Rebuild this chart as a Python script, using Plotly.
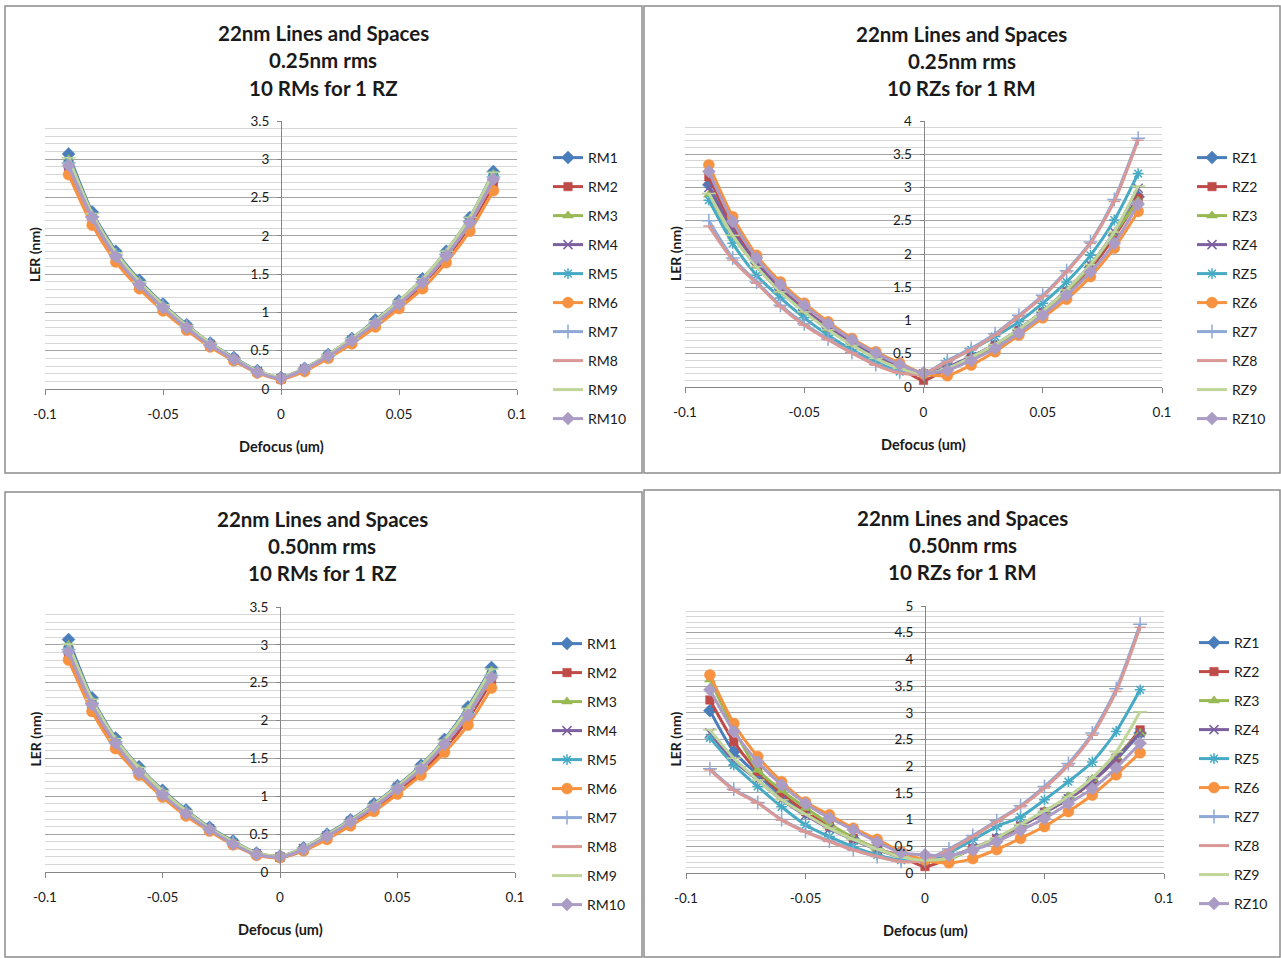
import plotly.graph_objects as go

# ---------------------------------------------------------------- data
DEFOCUS = [-0.09, -0.08, -0.07, -0.06, -0.05, -0.04, -0.03, -0.02, -0.01, 0.0,
           0.01, 0.02, 0.03, 0.04, 0.05, 0.06, 0.07, 0.08, 0.09]

X_TICKS = [-0.1, -0.05, 0, 0.05, 0.1]
X_TICK_TEXT = ["-0.1", "-0.05", "0", "0.05", "0.1"]

RM_NAMES = ["RM1", "RM2", "RM3", "RM4", "RM5", "RM6", "RM7", "RM8", "RM9", "RM10"]
RZ_NAMES = ["RZ1", "RZ2", "RZ3", "RZ4", "RZ5", "RZ6", "RZ7", "RZ8", "RZ9", "RZ10"]

# 0.25 nm rms, 10 RMs for 1 RZ
LER_025_RM = [
    [3.07, 2.31, 1.80, 1.42, 1.11, 0.84, 0.60, 0.41, 0.24, 0.15, 0.27, 0.45, 0.66, 0.90, 1.15, 1.44, 1.80, 2.24, 2.84],
    [2.86, 2.19, 1.70, 1.34, 1.05, 0.79, 0.57, 0.38, 0.22, 0.13, 0.25, 0.42, 0.62, 0.85, 1.09, 1.37, 1.71, 2.13, 2.66],
    [3.00, 2.28, 1.77, 1.40, 1.09, 0.83, 0.59, 0.40, 0.23, 0.15, 0.26, 0.44, 0.65, 0.88, 1.14, 1.42, 1.78, 2.22, 2.81],
    [2.93, 2.23, 1.74, 1.37, 1.07, 0.81, 0.58, 0.39, 0.23, 0.14, 0.26, 0.43, 0.64, 0.87, 1.12, 1.40, 1.75, 2.18, 2.75],
    [2.97, 2.26, 1.76, 1.38, 1.08, 0.82, 0.59, 0.39, 0.23, 0.15, 0.26, 0.44, 0.64, 0.88, 1.13, 1.41, 1.77, 2.20, 2.79],
    [2.80, 2.14, 1.66, 1.31, 1.02, 0.77, 0.55, 0.37, 0.21, 0.13, 0.23, 0.40, 0.59, 0.81, 1.05, 1.31, 1.65, 2.06, 2.59],
    [2.95, 2.25, 1.75, 1.38, 1.08, 0.82, 0.58, 0.39, 0.23, 0.14, 0.26, 0.43, 0.64, 0.87, 1.12, 1.40, 1.76, 2.19, 2.77],
    [2.90, 2.21, 1.72, 1.36, 1.06, 0.80, 0.57, 0.38, 0.22, 0.14, 0.25, 0.43, 0.63, 0.86, 1.11, 1.39, 1.74, 2.17, 2.72],
    [3.02, 2.29, 1.78, 1.40, 1.10, 0.83, 0.60, 0.40, 0.24, 0.15, 0.27, 0.45, 0.66, 0.89, 1.15, 1.44, 1.80, 2.24, 2.83],
    [2.92, 2.24, 1.73, 1.36, 1.06, 0.80, 0.57, 0.39, 0.22, 0.14, 0.26, 0.43, 0.63, 0.86, 1.11, 1.39, 1.74, 2.17, 2.74],
]

# 0.25 nm rms, 10 RZs for 1 RM
LER_025_RZ = [
    [3.04, 2.36, 1.87, 1.47, 1.16, 0.89, 0.66, 0.46, 0.30, 0.20, 0.29, 0.45, 0.63, 0.85, 1.12, 1.43, 1.80, 2.28, 2.86],
    [3.16, 2.42, 1.90, 1.49, 1.17, 0.90, 0.67, 0.46, 0.29, 0.10, 0.28, 0.44, 0.62, 0.84, 1.11, 1.42, 1.78, 2.26, 2.84],
    [2.89, 2.27, 1.82, 1.44, 1.14, 0.87, 0.64, 0.44, 0.28, 0.20, 0.28, 0.44, 0.62, 0.85, 1.12, 1.44, 1.82, 2.31, 2.80],
    [3.00, 2.34, 1.86, 1.47, 1.16, 0.89, 0.66, 0.46, 0.29, 0.20, 0.30, 0.46, 0.64, 0.87, 1.14, 1.46, 1.84, 2.33, 2.99],
    [2.81, 2.16, 1.68, 1.34, 1.04, 0.78, 0.56, 0.38, 0.23, 0.20, 0.38, 0.56, 0.76, 0.98, 1.26, 1.58, 1.98, 2.51, 3.21],
    [3.34, 2.56, 1.98, 1.58, 1.26, 0.98, 0.73, 0.53, 0.36, 0.20, 0.17, 0.33, 0.53, 0.78, 1.04, 1.32, 1.66, 2.09, 2.64],
    [2.50, 1.94, 1.58, 1.23, 0.95, 0.72, 0.52, 0.34, 0.22, 0.20, 0.40, 0.58, 0.80, 1.08, 1.38, 1.75, 2.18, 2.82, 3.74],
    [2.42, 1.91, 1.56, 1.21, 0.93, 0.71, 0.51, 0.33, 0.21, 0.20, 0.38, 0.56, 0.78, 1.06, 1.36, 1.73, 2.16, 2.79, 3.71],
    [2.91, 2.28, 1.81, 1.43, 1.13, 0.86, 0.63, 0.43, 0.28, 0.20, 0.28, 0.45, 0.64, 0.87, 1.14, 1.46, 1.84, 2.33, 3.02],
    [3.24, 2.49, 1.94, 1.54, 1.23, 0.95, 0.71, 0.51, 0.34, 0.21, 0.25, 0.40, 0.58, 0.81, 1.08, 1.38, 1.73, 2.16, 2.75],
]

# 0.50 nm rms, 10 RMs for 1 RZ
LER_050_RM = [
    [3.07, 2.30, 1.77, 1.39, 1.08, 0.82, 0.59, 0.41, 0.25, 0.21, 0.32, 0.50, 0.69, 0.90, 1.14, 1.41, 1.75, 2.18, 2.70],
    [2.86, 2.16, 1.67, 1.30, 1.01, 0.76, 0.56, 0.38, 0.23, 0.19, 0.29, 0.45, 0.64, 0.83, 1.06, 1.32, 1.63, 2.02, 2.52],
    [3.00, 2.27, 1.75, 1.37, 1.07, 0.81, 0.58, 0.40, 0.25, 0.21, 0.31, 0.49, 0.68, 0.89, 1.13, 1.40, 1.73, 2.15, 2.66],
    [2.93, 2.22, 1.71, 1.33, 1.04, 0.78, 0.57, 0.38, 0.24, 0.20, 0.31, 0.48, 0.67, 0.88, 1.12, 1.38, 1.71, 2.10, 2.60],
    [2.96, 2.24, 1.73, 1.35, 1.05, 0.79, 0.57, 0.39, 0.24, 0.20, 0.31, 0.48, 0.67, 0.88, 1.11, 1.38, 1.71, 2.11, 2.62],
    [2.80, 2.12, 1.63, 1.28, 0.99, 0.74, 0.54, 0.36, 0.22, 0.19, 0.28, 0.43, 0.61, 0.80, 1.03, 1.28, 1.58, 1.94, 2.43],
    [2.94, 2.23, 1.72, 1.34, 1.04, 0.79, 0.57, 0.39, 0.24, 0.20, 0.30, 0.48, 0.67, 0.87, 1.11, 1.37, 1.70, 2.09, 2.60],
    [2.90, 2.20, 1.70, 1.32, 1.03, 0.78, 0.56, 0.38, 0.23, 0.20, 0.30, 0.47, 0.66, 0.86, 1.10, 1.36, 1.69, 2.08, 2.58],
    [3.01, 2.28, 1.76, 1.38, 1.07, 0.81, 0.58, 0.40, 0.25, 0.21, 0.32, 0.49, 0.68, 0.89, 1.13, 1.40, 1.74, 2.16, 2.68],
    [2.91, 2.21, 1.70, 1.31, 1.02, 0.77, 0.56, 0.37, 0.23, 0.20, 0.30, 0.47, 0.66, 0.86, 1.10, 1.36, 1.69, 2.07, 2.57],
]

# 0.50 nm rms, 10 RZs for 1 RM
LER_050_RZ = [
    [3.04, 2.27, 1.84, 1.45, 1.13, 0.87, 0.64, 0.45, 0.30, 0.24, 0.28, 0.45, 0.64, 0.88, 1.13, 1.40, 1.72, 2.12, 2.62],
    [3.24, 2.46, 1.90, 1.49, 1.15, 0.88, 0.65, 0.46, 0.31, 0.12, 0.27, 0.45, 0.63, 0.87, 1.14, 1.38, 1.71, 2.15, 2.68],
    [3.62, 2.70, 1.93, 1.55, 1.22, 0.92, 0.66, 0.46, 0.30, 0.24, 0.25, 0.46, 0.62, 0.90, 1.15, 1.43, 1.76, 2.18, 2.62],
    [2.62, 2.10, 1.74, 1.37, 1.08, 0.83, 0.62, 0.44, 0.30, 0.24, 0.30, 0.47, 0.65, 0.89, 1.13, 1.39, 1.72, 2.15, 2.62],
    [2.53, 2.02, 1.62, 1.24, 0.90, 0.68, 0.49, 0.34, 0.24, 0.24, 0.38, 0.62, 0.87, 1.05, 1.37, 1.71, 2.08, 2.65, 3.43],
    [3.71, 2.80, 2.18, 1.71, 1.33, 1.09, 0.84, 0.63, 0.40, 0.24, 0.19, 0.27, 0.44, 0.65, 0.87, 1.15, 1.46, 1.84, 2.25],
    [1.95, 1.57, 1.32, 1.00, 0.78, 0.60, 0.44, 0.31, 0.22, 0.24, 0.45, 0.70, 0.98, 1.26, 1.62, 2.05, 2.62, 3.45, 4.66],
    [1.93, 1.55, 1.31, 0.99, 0.77, 0.59, 0.43, 0.31, 0.21, 0.24, 0.43, 0.68, 0.96, 1.24, 1.59, 2.02, 2.58, 3.40, 4.60],
    [2.68, 2.15, 1.74, 1.37, 1.10, 0.84, 0.63, 0.45, 0.30, 0.24, 0.28, 0.46, 0.66, 0.91, 1.16, 1.43, 1.78, 2.27, 3.02],
    [3.43, 2.65, 2.08, 1.65, 1.30, 1.03, 0.81, 0.58, 0.38, 0.34, 0.33, 0.43, 0.59, 0.80, 1.02, 1.30, 1.58, 1.97, 2.43],
]

TITLE_LINE1 = "22nm Lines and Spaces"
PANEL_TITLES = [
    ("0.25nm rms", "10 RMs for 1 RZ"),
    ("0.25nm rms", "10 RZs for 1 RM"),
    ("0.50nm rms", "10 RMs for 1 RZ"),
    ("0.50nm rms", "10 RZs for 1 RM"),
]
Y_MAX = [3.5, 4, 3.5, 5]

# ---------------------------------------------------------------- styling
W, H = 1281, 958
FONT = "Lato, Carlito, Calibri, 'Liberation Sans', sans-serif"
TEXT = "#1a1a1a"
AXIS = "#868686"

COLORS = ["#4a7ebb", "#be4b48", "#98b954", "#7d60a0", "#46aac5",
          "#f69240", "#8fa9d6", "#d99795", "#c0d59a", "#ab9cc5"]
SYMBOLS = ["diamond", "square", "triangle-up", "x-thin-open", "asterisk-open",
           "circle", "cross-thin-open", "line-ew-open", "line-ew-open", "diamond"]
SIZES = [10, 8.5, 9.5, 9, 9, 11, 10, 8, 10, 10]


def px(x):
    return x / W


def py(y):
    return 1 - y / H


# pixel geometry of each panel: plot box, title centre, legend, frame
PANELS = [
    dict(x0=45, x1=517, ytop=121, ybot=389, tx=323, ty=(33, 60, 88),
         legx=548, legy=142, frame=(5, 6, 642, 473)),
    dict(x0=685, x1=1162, ytop=121, ybot=387, tx=962, ty=(34, 61, 88),
         legx=1192, legy=142, frame=(644, 6, 1280, 473)),
    dict(x0=45, x1=515, ytop=607, ybot=872, tx=322, ty=(519, 546, 573),
         legx=547, legy=628, frame=(5, 492, 642, 957)),
    dict(x0=686, x1=1164, ytop=606, ybot=873, tx=963, ty=(518, 545, 572),
         legx=1194, legy=627, frame=(644, 490, 1280, 957)),
]

DATASETS = [(LER_025_RM, RM_NAMES), (LER_025_RZ, RZ_NAMES),
            (LER_050_RM, RM_NAMES), (LER_050_RZ, RZ_NAMES)]

fig = go.Figure()
annotations = []
shapes = []
layout = {}

for i, (panel, (series, names)) in enumerate(zip(PANELS, DATASETS), start=1):
    sfx = "" if i == 1 else str(i)
    leg = "legend" + sfx
    for k, (name, vals) in enumerate(zip(names, series)):
        open_sym = SYMBOLS[k].endswith("-open")
        fig.add_trace(go.Scatter(
            x=DEFOCUS, y=vals, name=name, mode="lines+markers",
            xaxis="x" + sfx, yaxis="y" + sfx,
            legend=leg, legendgroup=f"p{i}_{name}",
            line=dict(color=COLORS[k], width=3, shape="spline", smoothing=0.7),
            marker=dict(symbol=SYMBOLS[k], size=SIZES[k], color=COLORS[k],
                        line=dict(color=COLORS[k], width=1.5 if open_sym else 0.5)),
            hoverinfo="x+y+name",
        ))

    zero_x = (panel["x0"] + panel["x1"]) / 2
    layout["xaxis" + sfx] = dict(
        domain=[px(panel["x0"]), px(panel["x1"])], range=[-0.1, 0.1],
        anchor="y" + sfx, tickvals=X_TICKS, ticktext=X_TICK_TEXT, automargin=False,
        showgrid=False, zeroline=False, showline=True, linecolor=AXIS, linewidth=1,
        ticks="outside", ticklen=5, tickcolor=AXIS, ticklabelstandoff=8,
        tickfont=dict(family=FONT, size=13.5, color=TEXT), fixedrange=True,
    )
    layout["yaxis" + sfx] = dict(
        domain=[py(panel["ybot"]), py(panel["ytop"])], range=[0, Y_MAX[i - 1]],
        anchor="free", position=px(zero_x), automargin=False,
        dtick=0.5, tick0=0, showgrid=True, gridcolor="#a3a3a3", gridwidth=1,
        minor=dict(dtick=0.1, showgrid=True, gridcolor="#d6d6d6", gridwidth=1, ticks=""),
        zeroline=False, showline=True, linecolor=AXIS, linewidth=1,
        ticks="outside", ticklen=4, tickcolor=AXIS, ticklabelstandoff=5,
        tickfont=dict(family=FONT, size=13.5, color=TEXT), fixedrange=True,
    )
    layout[leg] = dict(
        x=px(panel["legx"]), y=py(panel["legy"]), xanchor="left", yanchor="top",
        font=dict(family=FONT, size=14, color=TEXT), bgcolor="rgba(0,0,0,0)",
        tracegroupgap=7.8, traceorder="grouped", itemwidth=30,
    )

    # three-line panel title
    for line, y in zip((TITLE_LINE1,) + PANEL_TITLES[i - 1], panel["ty"]):
        annotations.append(dict(
            text=f"<b>{line}</b>", x=px(panel["tx"]), y=py(y), xref="paper", yref="paper",
            xanchor="center", yanchor="middle", showarrow=False,
            font=dict(family=FONT, size=20.5, color=TEXT),
        ))
    # axis titles
    annotations.append(dict(
        text="<b>LER (nm)</b>", x=px(35 if i % 2 == 1 else 675),
        y=py((panel["ytop"] + panel["ybot"]) / 2),
        xref="paper", yref="paper", xanchor="center", yanchor="middle", textangle=-90,
        showarrow=False, font=dict(family=FONT, size=14, color=TEXT),
    ))
    annotations.append(dict(
        text="<b>Defocus (um)</b>", x=px(zero_x), y=py(panel["ybot"] + 57),
        xref="paper", yref="paper", xanchor="center", yanchor="middle",
        showarrow=False, font=dict(family=FONT, size=14.5, color=TEXT),
    ))

    # chart frame
    fx0, fy0, fx1, fy1 = panel["frame"]
    shapes.append(dict(type="rect", xref="paper", yref="paper",
                       x0=px(fx0), x1=px(fx1), y0=py(fy1), y1=py(fy0),
                       line=dict(color="#8c8c8c", width=1.5), layer="below"))

fig.update_layout(
    width=W, height=H, autosize=False,
    margin=dict(l=0, r=0, t=0, b=0, pad=0, autoexpand=False),
    paper_bgcolor="white", plot_bgcolor="white",
    annotations=annotations, shapes=shapes,
    showlegend=True, hovermode="closest",
    **layout,
)

# the page hosts a single fixed-size figure: drop the default body margin
PAGE_SETUP = (
    "document.body.style.margin='0';"
    "document.body.style.padding='0';"
    "document.body.style.overflow='hidden';"
    "document.documentElement.style.overflow='hidden';"
)

fig.write_html("out.html", config={"displayModeBar": False}, post_script=PAGE_SETUP)
